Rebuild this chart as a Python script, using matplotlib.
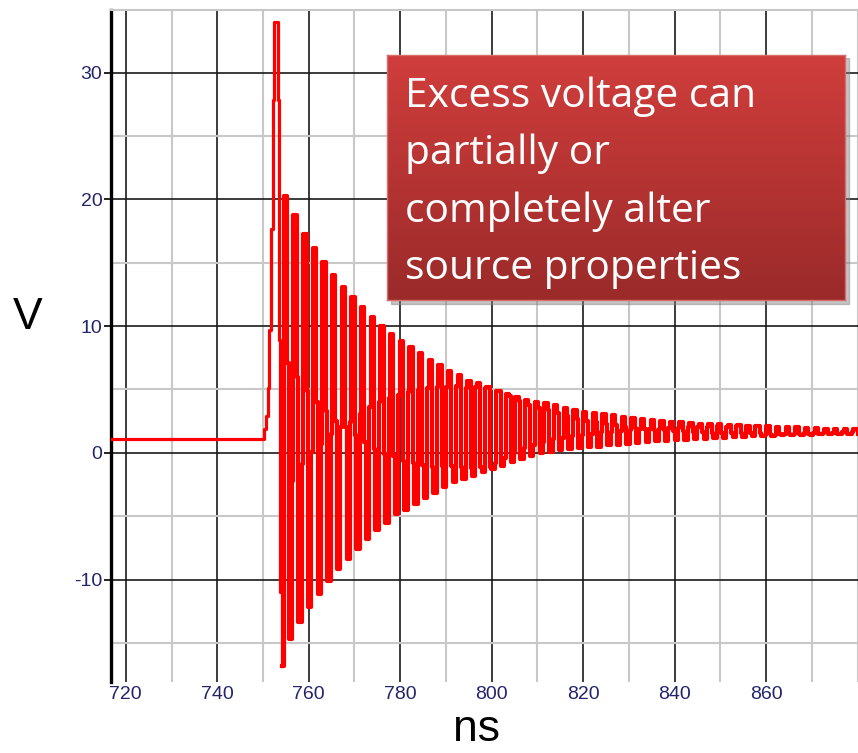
import numpy as np
import matplotlib
matplotlib.use("Agg")
from matplotlib import pyplot as plt
from matplotlib.patches import Rectangle
from matplotlib.ticker import MultipleLocator, FixedLocator

plt.rcParams['axes.unicode_minus'] = False

# Flat level, fast rise and the first spike (ns, V)
lead_t = [716.7, 750.3, 750.7, 751.1, 751.4, 751.8, 752.1, 752.5, 753.2, 753.6, 753.8, 754.05]
lead_v = [1.1, 1.9, 2.9, 5.1, 9.7, 17.7, 27.8, 34.0, 27.8, 8.9, -11.0, -16.8]

# Ringing after the spike, one entry per cycle (V):
# rises = short step before the top, peaks = top, falls = short step after the top
ring_start = 754.55
ring_period = 2.11
rise_hold = 0.3
peak_hold = 0.75
fall_hold = 0.3
peaks = [20.3, 18.75, 17.3, 16.2, 15.07, 14.0, 13.1, 12.26, 11.47, 10.73,
         10.03, 9.38, 8.85, 8.32, 7.85, 7.35, 6.96, 6.49, 6.17, 5.7,
         5.48, 5.17, 4.91, 4.65, 4.38, 4.2, 4.05, 3.9, 3.75, 3.55,
         3.4, 3.25, 3.15, 3.05, 2.95, 2.85, 2.75, 2.65, 2.6, 2.5,
         2.45, 2.4, 2.35, 2.3, 2.3, 2.25, 2.2, 2.2, 2.15, 2.1,
         2.1, 2.05, 2.0, 2.0, 1.95, 1.95, 1.9, 1.9, 1.85, 1.85]
troughs = [-14.66, -13.35, -12.13, -11.1, -10.1, -9.2, -8.35, -7.56, -6.78, -6.12,
           -5.5, -4.8, -4.5, -4.05, -3.6, -3.2, -2.7, -2.3, -2.05, -1.8,
           -1.5, -1.26, -1.0, -0.74, -0.47, -0.25, -0.05, 0.1, 0.2, 0.3,
           0.35, 0.45, 0.5, 0.6, 0.65, 0.7, 0.8, 0.85, 0.9, 0.95,
           1.0, 1.05, 1.1, 1.12, 1.15, 1.2, 1.22, 1.25, 1.3, 1.33,
           1.36, 1.38, 1.4, 1.42, 1.44, 1.45, 1.47, 1.48, 1.5, 1.5]
falls = [7.1, 5.96, 4.9, 4.0, 3.3, 2.5, 2.0, 1.4, 0.84, 0.3,
         -0.1, -0.26, -0.62, -0.83, -0.96, -1.08, -1.06, -1.06, -1.15, -1.2,
         -1.15, -1.12, 4.85, 4.46, 4.06, 3.8, 3.56, 3.35, 3.13, 2.9,
         2.7, 2.54, 2.4, 2.29, 2.17, 2.07, 1.98, 1.89, 1.84, 1.77,
         1.72, 1.69, 1.66, 1.61, 1.6, 1.58, 1.54, 1.55, 1.54, 1.53,
         1.52, 1.52, 1.5, 1.5, 1.5, 1.49, 1.5, 1.49, 1.5, 1.84]
rises = [-16.8, -2.2, -0.87, 0.05, 0.7, 1.5, 2.0, 2.4, 3.1, 3.6,
         4.0, 4.35, 4.58, 4.8, 4.99, 5.08, 5.22, 5.22, 5.26, 5.14,
         5.2, 5.14, -0.81, -0.38, 0.02, 0.36, 0.65, 0.88, 1.06, 1.2,
         1.3, 1.42, 1.51, 1.62, 1.68, 1.75, 1.82, 1.85, 1.9, 1.92,
         1.96, 1.99, 2.02, 2.02, 2.07, 2.08, 2.07, 2.11, 2.1, 2.08,
         1.37, 1.42, 1.45, 1.49, 1.53, 1.54, 1.57, 1.59, 1.61, 1.62]
t_end = 880.1

note_lines = ["Excess voltage can", "partially or", "completely alter", "source properties"]

# build the stepped ringing trace
t = [lead_t[-1]]
v = [lead_v[-1]]
for k in range(len(peaks)):
    t0 = ring_start + k * ring_period
    t += [t0 - rise_hold, t0, t0 + peak_hold, t0 + peak_hold + fall_hold]
    v += [rises[k], peaks[k], falls[k], troughs[k]]
t.append(t_end)
v.append(v[-1])

W, H = 858, 753
fig = plt.figure(figsize=(W / 100, H / 100), dpi=100)
ax = fig.add_axes([110.7 / W, (H - 682) / H, (W - 110.7) / W, 672 / H])

ax.plot(lead_t + [t[1]], lead_v + [lead_v[-1]], drawstyle="steps-post",
        color="#ff0000", lw=2.3, zorder=3)
ax.plot(t, v, drawstyle="steps-post", color="#ff0000", lw=3.0, zorder=3)

ax.set_xlim(716.7, t_end)
ax.set_ylim(-18.08, 34.94)
ax.xaxis.set_major_locator(FixedLocator([720, 740, 760, 780, 800, 820, 840, 860]))
ax.xaxis.set_minor_locator(MultipleLocator(10))
ax.yaxis.set_major_locator(MultipleLocator(10))
ax.yaxis.set_minor_locator(MultipleLocator(5))
ax.grid(which="major", color="#1a1a1a", lw=1.2)
ax.grid(which="minor", color="#c8c8c8", lw=1.5)
ax.set_axisbelow(True)

for s in ["right", "bottom"]:
    ax.spines[s].set_visible(False)
ax.spines["left"].set_linewidth(2.4)
ax.spines["left"].set_color("black")
ax.spines["top"].set_color("#c8c8c8")
ax.spines["top"].set_linewidth(1.5)

tick_col = "#24246a"
ax.tick_params(axis="y", which="major", length=5, width=1.2, color="black", pad=1,
               labelsize=14, labelcolor=tick_col)
ax.tick_params(axis="x", which="major", length=0, pad=3, labelsize=14, labelcolor=tick_col)
ax.tick_params(which="minor", length=0)
for lab in ax.get_xticklabels() + ax.get_yticklabels():
    lab.set_family("Liberation Sans")

fig.text(27.5 / W, 1 - 317.5 / H, "V", fontsize=32, family="Liberation Sans",
         ha="center", va="center")
fig.text(477 / W, 3 / H, "ns", fontsize=32, family="Liberation Sans",
         ha="center", va="bottom")

# red note box with a soft shadow and vertical gradient
bx0, bx1, by0, by1 = 386.7, 845, 54.5, 300
sh = Rectangle(((bx0 + 4) / W, 1 - (by1 + 4) / H), (bx1 - bx0) / W, (by1 - by0) / H,
               transform=fig.transFigure, color="#808080", alpha=0.45, zorder=5)
fig.patches.append(sh)
box_ax = fig.add_axes([bx0 / W, 1 - by1 / H, (bx1 - bx0) / W, (by1 - by0) / H], zorder=6)
top = np.array([208, 62, 60]) / 255
bot = np.array([155, 42, 42]) / 255
frac = np.linspace(0, 1, 256)[:, None]
grad = (top[None, :] * (1 - frac) + bot[None, :] * frac)[:, None, :]
box_ax.imshow(grad, aspect="auto", extent=[0, 1, 0, 1], interpolation="bilinear")
box_ax.set_xlim(0, 1)
box_ax.set_ylim(0, 1)
box_ax.set_xticks([])
box_ax.set_yticks([])
for s in box_ax.spines.values():
    s.set_color("#d86e6c")
    s.set_linewidth(1.0)

baselines = [106.7, 163.6, 221.7, 278.6]
for line, yb in zip(note_lines, baselines):
    fig.text(405 / W, 1 - yb / H, line, fontsize=29.3, family="Open Sans", color="white",
             ha="left", va="baseline", zorder=7)

fig.savefig("out.png", dpi=100)
